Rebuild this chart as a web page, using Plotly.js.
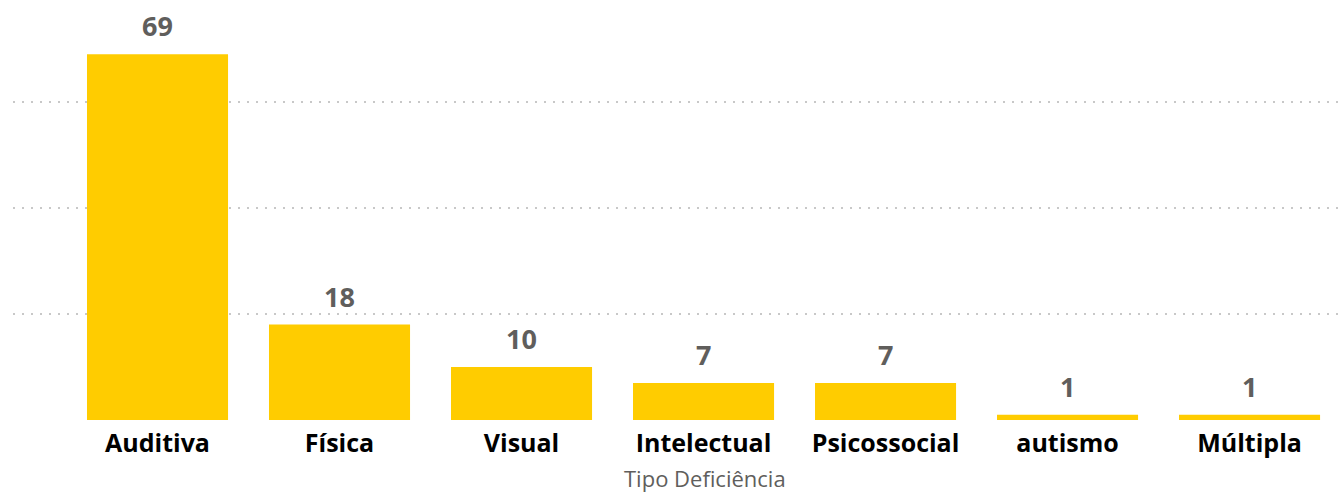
<!DOCTYPE html>
<html>
<head>
<meta charset="utf-8">
<script src="https://cdn.plot.ly/plotly-3.0.1.min.js"></script>
<style>html,body{margin:0;padding:0;background:#fff;}#chart{width:1338px;height:492px;}</style>
</head>
<body>
<div id="chart"></div>
<script>
const categories = ["Auditiva", "Física", "Visual", "Intelectual", "Psicossocial", "autismo", "Múltipla"];
const values = [69, 18, 10, 7, 7, 1, 1];
const yTicks = [0, 20, 40, 60];
const xTitle = "Tipo Deficiência";

const trace = {
  type: "bar",
  x: categories,
  y: values,
  marker: {color: "#FFCC00"},
  width: 0.775,
  hoverinfo: "x+y"
};

const annotations = categories.map((c, i) => ({
  x: c, y: values[i], xref: "x", yref: "y",
  text: String(values[i]),
  showarrow: false, yanchor: "bottom", yshift: 8,
  font: {family: "Open Sans, sans-serif", size: 27, color: "#605E5C", weight: 700}
}));
annotations.push({
  x: 0.5223, xref: "paper", y: 0, yref: "paper", yanchor: "top", yshift: -41,
  text: xTitle, showarrow: false,
  font: {family: "Open Sans, sans-serif", size: 22, color: "#605E5C"}
});

const layout = {
  width: 1338, height: 492,
  margin: {l: 13, r: 0, t: 20, b: 72},
  paper_bgcolor: "#fff", plot_bgcolor: "#fff",
  showlegend: false,
  xaxis: {
    type: "category",
    range: [-0.794, 6.486],
    showgrid: false, zeroline: false, showline: false,
    ticks: "",
    ticklabelstandoff: 6,
    tickfont: {family: "Open Sans, sans-serif", size: 25, color: "#000", weight: 700},
    fixedrange: true
  },
  yaxis: {
    range: [0, 75.47],
    tickvals: yTicks,
    showticklabels: false,
    showgrid: true, gridcolor: "#C8C8C8", griddash: "2px,7px", gridwidth: 2,
    zeroline: false, showline: false,
    fixedrange: true
  },
  annotations: annotations
};

Plotly.newPlot("chart", [trace], layout, {displayModeBar: false, staticPlot: true});
</script>
</body>
</html>
